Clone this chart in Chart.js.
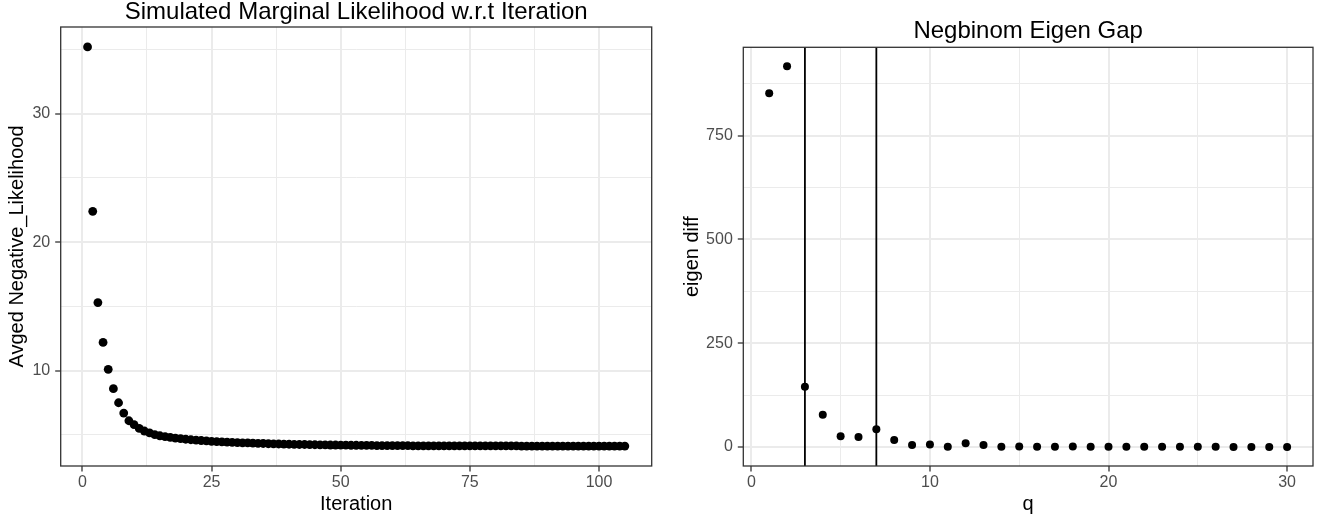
<!DOCTYPE html>
<html>
<head>
<meta charset="utf-8">
<script src="https://cdn.jsdelivr.net/npm/chart.js@4/dist/chart.umd.min.js"></script>
<style>
  html, body { margin: 0; padding: 0; background: #ffffff; }
  body { width: 1317px; height: 519px; position: relative; overflow: hidden; }
  canvas { position: absolute; top: 0; }
  #left { left: 0; }
  #right { left: 658px; }
</style>
</head>
<body>
<canvas id="left" width="658" height="519"></canvas>
<canvas id="right" width="659" height="519"></canvas>
<script>
// ---------- data: left panel ----------
const iteration = [
  1,2,3,4,5,6,7,8,9,10,11,12,13,14,15,16,17,18,19,20,
  21,22,23,24,25,26,27,28,29,30,31,32,33,34,35,36,37,38,39,40,
  41,42,43,44,45,46,47,48,49,50,51,52,53,54,55,56,57,58,59,60,
  61,62,63,64,65,66,67,68,69,70,71,72,73,74,75,76,77,78,79,80,
  81,82,83,84,85,86,87,88,89,90,91,92,93,94,95,96,97,98,99,100,
  101,102,103,104,105
];
const avgNegLikelihood = [
  35.2, 22.4, 15.3, 12.2, 10.1, 8.6, 7.5, 6.7, 6.1, 5.8,
  5.5, 5.3, 5.15, 5.02, 4.93, 4.86, 4.80, 4.75, 4.70, 4.66,
  4.62, 4.59, 4.56, 4.53, 4.50, 4.48, 4.46, 4.44, 4.42, 4.40,
  4.38, 4.37, 4.35, 4.34, 4.33, 4.31, 4.30, 4.29, 4.28, 4.27,
  4.26, 4.25, 4.25, 4.24, 4.23, 4.22, 4.22, 4.21, 4.21, 4.20,
  4.20, 4.19, 4.19, 4.18, 4.18, 4.18, 4.17, 4.17, 4.17, 4.16,
  4.16, 4.16, 4.16, 4.15, 4.15, 4.15, 4.15, 4.15, 4.14, 4.14,
  4.14, 4.14, 4.14, 4.14, 4.14, 4.14, 4.14, 4.14, 4.14, 4.14,
  4.14, 4.14, 4.14, 4.14, 4.13, 4.13, 4.13, 4.13, 4.13, 4.13,
  4.13, 4.13, 4.13, 4.13, 4.13, 4.13, 4.13, 4.13, 4.13, 4.13,
  4.13, 4.13, 4.13, 4.13, 4.13
];
const leftXMajor = [0, 25, 50, 75, 100];
const leftXMinor = [12.5, 37.5, 62.5, 87.5];
const leftYMajor = [10, 20, 30];
const leftYMinor = [5, 15, 25, 35];

// ---------- data: right panel ----------
const qValues = [1,2,3,4,5,6,7,8,9,10,11,12,13,14,15,16,17,18,19,20,21,22,23,24,25,26,27,28,29,30];
const eigenDiff = [
  852, 917, 145, 78, 26, 24, 43, 17, 5, 6,
  1, 9, 5, 1, 1.5, 1, 1, 1.5, 1, 1,
  0.8, 1, 0.5, 0.5, 0.5, 0.5, 0.4, 0.3, 0.3, 0.2
];
const vlineQ = [3, 7];
const rightXMajor = [0, 10, 20, 30];
const rightXMinor = [5, 15, 25];
const rightYMajor = [0, 250, 500, 750];
const rightYMinor = [125, 375, 625, 875];

// ---------- helpers ----------
const FONT = "'Liberation Sans', Arial, Helvetica, sans-serif";
Chart.defaults.font.family = FONT;

function expand(arr) {
  const mn = Math.min(...arr), mx = Math.max(...arr);
  const pad = (mx - mn) * 0.05;
  return [mn - pad, mx + pad];
}

const panelBorder = {
  id: 'panelBorder',
  afterDatasetsDraw(chart) {
    const a = chart.chartArea, c = chart.ctx;
    c.save();
    c.strokeStyle = '#333333';
    c.lineWidth = 1.3;
    c.strokeRect(a.left, a.top, a.right - a.left, a.bottom - a.top);
    c.restore();
  }
};

function makeVlinePlugin(values) {
  return {
    id: 'vlines',
    beforeDatasetsDraw(chart) {
      const a = chart.chartArea, c = chart.ctx, xs = chart.scales.x;
      c.save();
      c.strokeStyle = '#000000';
      c.lineWidth = 1.8;
      values.forEach(v => {
        const px = xs.getPixelForValue(v);
        c.beginPath();
        c.moveTo(px, a.top);
        c.lineTo(px, a.bottom);
        c.stroke();
      });
      c.restore();
    }
  };
}

function axis(cfg) {
  const all = cfg.major.concat(cfg.minor).sort((a, b) => a - b);
  const isMajor = (ctx) => ctx && ctx.tick && cfg.major.includes(ctx.tick.value);
  return {
    type: 'linear',
    position: cfg.position,
    bounds: 'data',
    min: cfg.range[0],
    max: cfg.range[1],
    afterBuildTicks(scale) { scale.ticks = all.map(v => ({ value: v })); },
    afterFit(scale) {
      if (cfg.position === 'bottom') scale.height = cfg.size; else scale.width = cfg.size;
    },
    border: { display: false },
    grid: {
      color: '#ebebeb',
      lineWidth: (ctx) => isMajor(ctx) ? 2 : 1,
      drawTicks: true,
      tickLength: 5.5,
      tickWidth: 1.3,
      tickColor: (ctx) => isMajor(ctx) ? '#333333' : 'rgba(0,0,0,0)'
    },
    ticks: {
      autoSkip: false,
      maxRotation: 0,
      minRotation: 0,
      padding: cfg.position === 'bottom' ? 1.5 : 5,
      color: '#4d4d4d',
      font: { size: 16, family: FONT },
      callback: (v) => cfg.major.includes(v) ? String(v) : ''
    },
    title: {
      display: true,
      text: cfg.title,
      color: '#000000',
      font: { size: 20, family: FONT, lineHeight: 1 },
      padding: cfg.titlePad
    }
  };
}

function scatterChart(id, xs, ys, opts) {
  const pts = xs.map((x, i) => ({ x: x, y: ys[i] }));
  return new Chart(document.getElementById(id), {
    type: 'scatter',
    data: {
      datasets: [{
        data: pts,
        pointRadius: opts.radius,
        pointHoverRadius: opts.radius,
        pointBackgroundColor: '#000000',
        pointBorderWidth: 0,
        borderColor: '#000000',
        showLine: false
      }]
    },
    options: {
      responsive: false,
      animation: false,
      devicePixelRatio: 1,
      layout: { padding: opts.layoutPad },
      plugins: {
        legend: { display: false },
        tooltip: { enabled: false },
        title: {
          display: true,
          text: opts.title,
          color: '#000000',
          fullSize: false,
          font: { size: 24, weight: 'normal', family: FONT, lineHeight: 1 },
          padding: opts.titlePad
        }
      },
      scales: {
        x: axis({ position: 'bottom', major: opts.xMajor, minor: opts.xMinor,
                  range: expand(xs), size: 53, title: opts.xTitle, titlePad: { top: 0, bottom: 5 } }),
        y: axis({ position: 'left', major: opts.yMajor, minor: opts.yMinor,
                  range: expand(ys), size: opts.yWidth, title: opts.yTitle, titlePad: { top: opts.yTitleOffset, bottom: 0 } })
      }
    },
    plugins: opts.plugins
  });
}

scatterChart('left', iteration, avgNegLikelihood, {
  radius: 4.4,
  title: 'Simulated Marginal Likelihood w.r.t Iteration',
  titlePad: { top: 0, bottom: 3 },
  layoutPad: { left: 0, right: 6.3, top: 0, bottom: 0 },
  xMajor: leftXMajor, xMinor: leftXMinor,
  yMajor: leftYMajor, yMinor: leftYMinor,
  xTitle: 'Iteration',
  yTitle: 'Avged Negative_Likelihood',
  yWidth: 60.7,
  yTitleOffset: 7.5,
  plugins: [panelBorder]
});

scatterChart('right', qValues, eigenDiff, {
  radius: 4,
  title: 'Negbinom Eigen Gap',
  titlePad: { top: 19, bottom: 4.3 },
  layoutPad: { left: 0, right: 3.3, top: 0, bottom: 0 },
  xMajor: rightXMajor, xMinor: rightXMinor,
  yMajor: rightYMajor, yMinor: rightYMinor,
  xTitle: 'q',
  yTitle: 'eigen diff',
  yWidth: 85.3,
  yTitleOffset: 24,
  plugins: [makeVlinePlugin(vlineQ), panelBorder]
});
</script>
</body>
</html>
